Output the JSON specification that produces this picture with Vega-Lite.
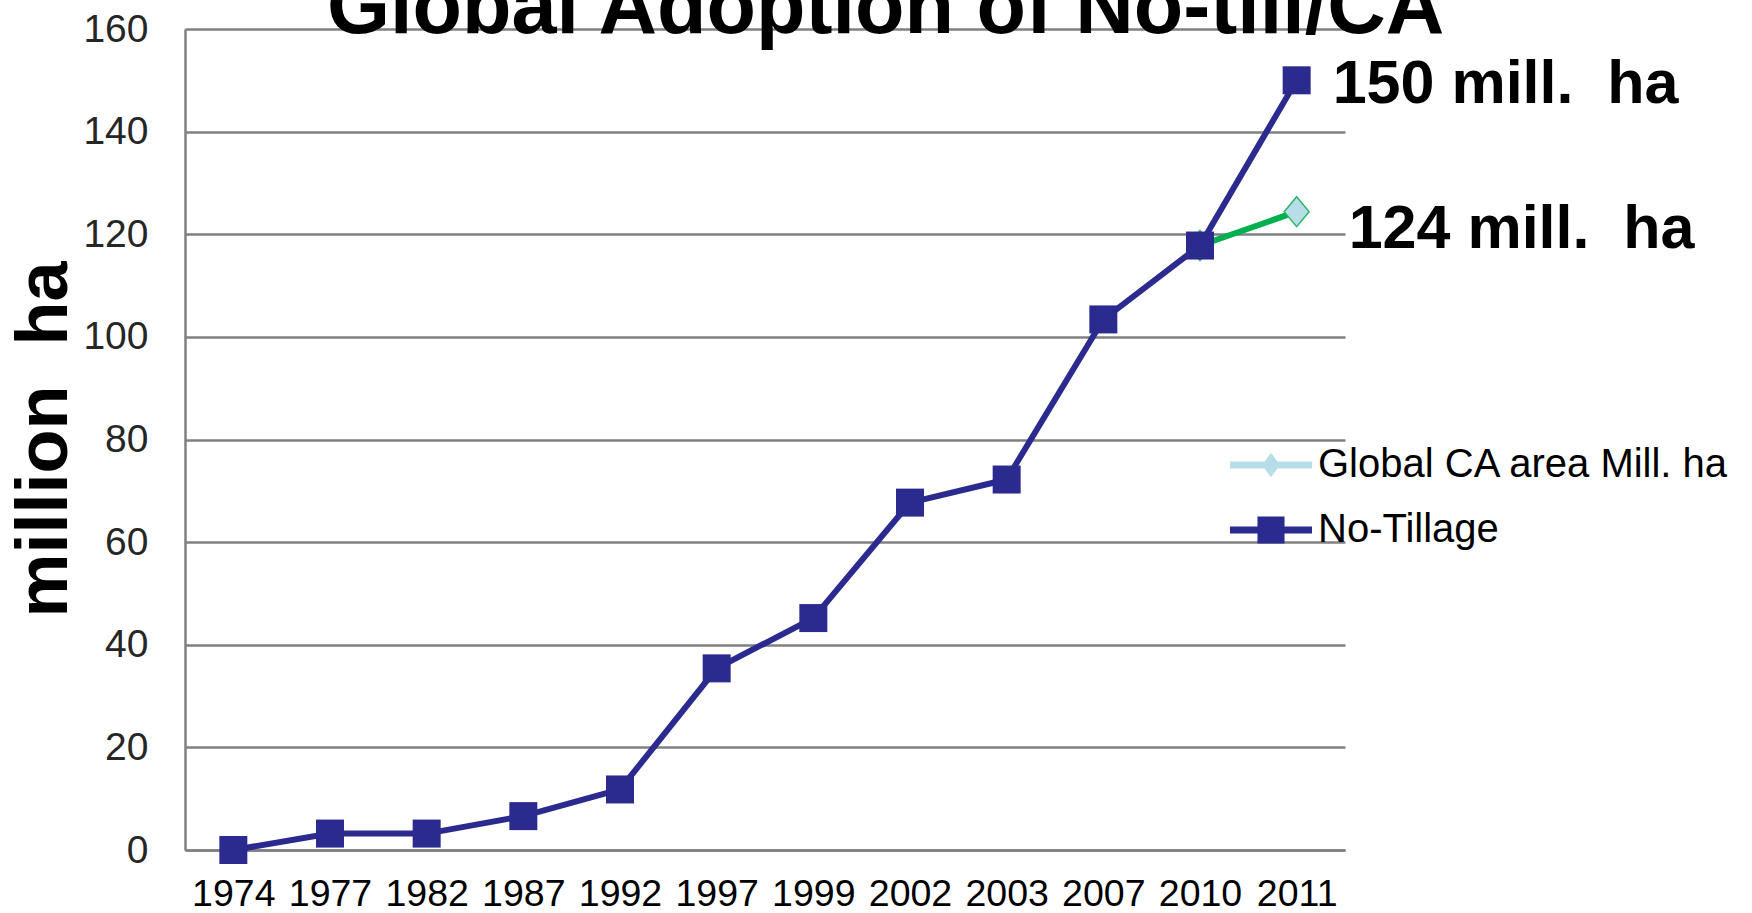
{
  "$schema": "https://vega.github.io/schema/vega-lite/v6.json",
  "width": 1160,
  "height": 821,
  "autosize": {"type": "none"},
  "padding": {"left": 185, "top": 29, "right": 407, "bottom": 63},
  "background": "white",
  "datasets": {
    "series": [
      {"year": "1974", "series": "No-Tillage", "value": 0},
      {"year": "1977", "series": "No-Tillage", "value": 3.2},
      {"year": "1982", "series": "No-Tillage", "value": 3.2},
      {"year": "1987", "series": "No-Tillage", "value": 6.6},
      {"year": "1992", "series": "No-Tillage", "value": 11.8},
      {"year": "1997", "series": "No-Tillage", "value": 35.4},
      {"year": "1999", "series": "No-Tillage", "value": 45.2},
      {"year": "2002", "series": "No-Tillage", "value": 67.7},
      {"year": "2003", "series": "No-Tillage", "value": 72.2},
      {"year": "2007", "series": "No-Tillage", "value": 103.4},
      {"year": "2010", "series": "No-Tillage", "value": 117.8},
      {"year": "2011", "series": "No-Tillage", "value": 150},
      {"year": "2010", "series": "Global CA area Mill. ha", "value": 117.8},
      {"year": "2011", "series": "Global CA area Mill. ha", "value": 124.4}
    ],
    "notes": [
      {"year": "2011", "value": 150, "label": "150 mill.\u00a0 ha", "which": "top"},
      {"year": "2011", "value": 124.4, "label": "124 mill.\u00a0 ha", "which": "bottom"}
    ],
    "heading": [
      {"year": "1977", "value": 160, "label": "Global Adoption of No-till/CA"}
    ]
  },
  "encoding": {
    "x": {
      "field": "year",
      "type": "ordinal",
      "scale": {"type": "point", "padding": 0.5, "domain": ["1974","1977","1982","1987","1992","1997","1999","2002","2003","2007","2010","2011"]},
      "axis": {
        "title": null,
        "labelAngle": 0,
        "labelFont": "Liberation Sans",
        "labelFontSize": 37.5,
        "labelColor": "#000000",
        "labelPadding": 25,
        "ticks": false,
        "domain": true,
        "domainColor": "#808080",
        "domainWidth": 2.5,
        "grid": false
      }
    },
    "y": {
      "field": "value",
      "type": "quantitative",
      "scale": {"domain": [0, 160], "nice": false, "zero": true},
      "axis": {
        "title": "million\u00a0 ha",
        "titleFont": "Liberation Sans",
        "titleFontSize": 72,
        "titleFontWeight": "bold",
        "titleColor": "#000000",
        "titleX": -119,
        "titleY": 410,
        "titleAngle": -90,
        "titleAlign": "center",
        "titleBaseline": "alphabetic",
        "values": [0, 20, 40, 60, 80, 100, 120, 140, 160],
        "labelFont": "Liberation Sans",
        "labelFontSize": 39,
        "labelColor": "#262626",
        "labelPadding": 37,
        "ticks": false,
        "domain": true,
        "domainColor": "#808080",
        "domainWidth": 2.5,
        "grid": true,
        "gridColor": "#808080",
        "gridWidth": 2.5,
        "gridOpacity": 1
      }
    }
  },
  "layer": [
    {
      "data": {"name": "series"},
      "mark": {"type": "line", "strokeWidth": 6, "strokeCap": "butt", "strokeJoin": "miter"},
      "encoding": {
        "color": {
          "field": "series",
          "type": "nominal",
          "scale": {"domain": ["Global CA area Mill. ha", "No-Tillage"], "range": ["#00B050", "#2B2A8F"]},
          "legend": {
            "title": null,
            "orient": "none",
            "legendX": 1045,
            "legendY": 395,
            "padding": 0,
            "symbolSize": 6724,
            "labelFont": "Liberation Sans",
            "labelFontSize": 40,
            "labelColor": "#000000",
            "labelOffset": 6,
            "rowPadding": 4,
            "labelLimit": 600,
            "encode": {
              "symbols": {
                "update": {
                  "shape": {"signal": "datum.value === 'No-Tillage' ? 'M-1,-0.085H1V0.085H-1Z M-0.33,-0.33H0.33V0.33H-0.33Z' : 'M-1,-0.085H1V0.085H-1Z M0,-0.3L0.22,0L0,0.3L-0.22,0Z'"},
                  "fill": {"signal": "datum.value === 'No-Tillage' ? '#2B2A8F' : '#B7DEE8'"},
                  "stroke": {"value": "transparent"},
                  "strokeWidth": {"value": 0},
                  "opacity": {"value": 1}
                }
              }
            }
          }
        }
      }
    },
    {
      "data": {"name": "series"},
      "transform": [{"filter": "datum.series === 'Global CA area Mill. ha'"}],
      "mark": {"type": "point", "shape": "M0,-1.2L1,0L0,1.2L-1,0Z", "filled": true, "fill": "#B7DEE8", "stroke": "#2DB56A", "strokeWidth": 1.5, "size": 625, "opacity": 1}
    },
    {
      "data": {"name": "series"},
      "transform": [{"filter": "datum.series === 'No-Tillage'"}],
      "mark": {"type": "point", "shape": "square", "filled": true, "fill": "#2B2A8F", "strokeWidth": 0, "size": 784, "opacity": 1}
    },
    {
      "data": {"name": "notes"},
      "transform": [{"filter": "datum.which === 'top'"}],
      "mark": {"type": "text", "align": "left", "baseline": "alphabetic", "dx": 36, "dy": 23, "font": "Liberation Sans", "fontSize": 61, "fontWeight": "bold", "color": "#000000"},
      "encoding": {"text": {"field": "label"}}
    },
    {
      "data": {"name": "notes"},
      "transform": [{"filter": "datum.which === 'bottom'"}],
      "mark": {"type": "text", "align": "left", "baseline": "alphabetic", "dx": 52, "dy": 36, "font": "Liberation Sans", "fontSize": 61, "fontWeight": "bold", "color": "#000000"},
      "encoding": {"text": {"field": "label"}}
    },
    {
      "data": {"name": "heading"},
      "mark": {"type": "text", "align": "left", "baseline": "alphabetic", "dx": -3, "dy": 4, "font": "Liberation Sans", "fontSize": 81, "fontWeight": "bold", "color": "#000000"},
      "encoding": {"text": {"field": "label"}}
    }
  ],
  "config": {
    "view": {"stroke": null},
    "legend": {"symbolLimit": 0}
  }
}
